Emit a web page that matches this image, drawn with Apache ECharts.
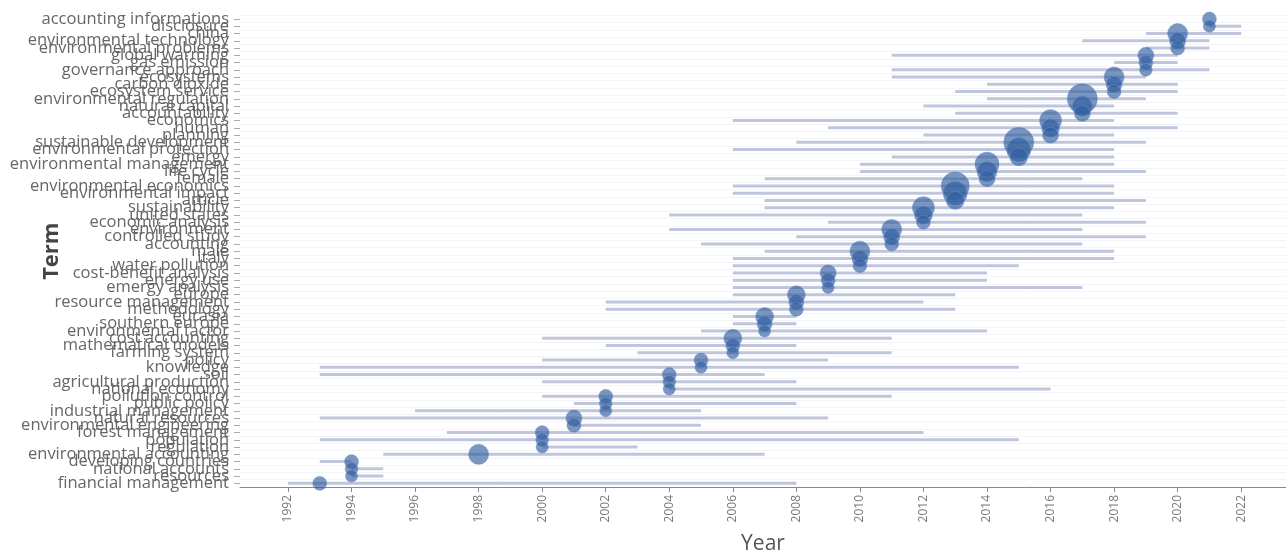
<!DOCTYPE html>
<html>
<head>
<meta charset="utf-8">
<script src="https://cdn.jsdelivr.net/npm/echarts@6/dist/echarts.min.js"></script>
<style>
html,body{margin:0;padding:0;background:#fff;}
#chart{width:1286px;height:557px;}
</style>
</head>
<body>
<div id="chart"></div>
<script>
// Terms listed top to bottom
const terms = [
  "accounting informations","disclosure","china","environmental technology","environmental problems",
  "global warming","gas emission","governance approach","ecosystems","carbon dioxide",
  "ecosystem service","environmental regulation","natural capital","accountability","economics",
  "human","planning","sustainable development","environmental protection","emergy",
  "environmental management","life cycle","female","environmental economics","environmental impact",
  "article","sustainability","united states","economic analysis","environment",
  "controlled study","accounting","male","italy","water pollution",
  "cost-benefit analysis","energy use","emergy analysis","europe","resource management",
  "methodology","eurasia","southern europe","environmental factor","cost accounting",
  "mathematical models","farming system","policy","knowledge","soil",
  "agricultural production","national economy","pollution control","public policy","industrial management",
  "natural resources","environmental engineering","forest management","population","regulation",
  "environmental accounting","developing countries","national accounts","resources","financial management"
];
// first quartile year (bar start)
const q1Years = [
  2021,2021,2019,2017,2019,
  2011,2018,2011,2011,2014,
  2013,2014,2012,2013,2006,
  2009,2012,2008,2006,2011,
  2010,2010,2007,2006,2006,
  2007,2007,2004,2009,2004,
  2008,2005,2007,2006,2006,
  2006,2006,2006,2006,2002,
  2002,2006,2006,2005,2000,
  2002,2003,2000,1993,1993,
  2000,2004,2000,2001,1996,
  1993,2001,1997,1993,2000,
  1995,1993,1994,1994,1992
];
// median year (bubble)
const medianYears = [
  2021,2021,2020,2020,2020,
  2019,2019,2019,2018,2018,
  2018,2017,2017,2017,2016,
  2016,2016,2015,2015,2015,
  2014,2014,2014,2013,2013,
  2013,2012,2012,2012,2011,
  2011,2011,2010,2010,2010,
  2009,2009,2009,2008,2008,
  2008,2007,2007,2007,2006,
  2006,2006,2005,2005,2004,
  2004,2004,2002,2002,2002,
  2001,2001,2000,2000,2000,
  1998,1994,1994,1994,1993
];
// third quartile year (bar end)
const q3Years = [
  2021,2022,2022,2021,2021,
  2020,2020,2021,2019,2020,
  2020,2019,2018,2020,2018,
  2020,2018,2019,2018,2018,
  2018,2019,2017,2018,2018,
  2019,2018,2017,2019,2017,
  2019,2017,2018,2018,2015,
  2014,2014,2017,2013,2012,
  2013,2008,2008,2014,2011,
  2008,2011,2009,2015,2007,
  2008,2016,2011,2008,2005,
  2009,2005,2012,2015,2003,
  2007,1994,1995,1995,2008
];
// term frequency
const freqs = [
  12,9,25,16,12,
  16,12,10,25,16,
  12,56,25,16,30,
  20,16,56,36,20,
  36,25,16,49,36,
  20,30,20,12,25,
  16,12,25,16,12,
  16,12,9,20,14,
  12,20,14,9,20,
  12,9,12,9,12,
  10,9,12,10,9,
  16,12,12,10,9,
  25,12,10,9,12
];
const yearTicks = [1992,1994,1996,1998,2000,2002,2004,2006,2008,2010,2012,2014,2016,2018,2020,2022];

const barData = terms.map((t,i)=>[q1Years[i], q3Years[i], i]);
const bubbleData = terms.map((t,i)=>[medianYears[i], i, freqs[i]]);

const chart = echarts.init(document.getElementById('chart'), null, {renderer:'canvas'});
const font = '"Open Sans", "DejaVu Sans", sans-serif';
chart.setOption({
  animation:false,
  backgroundColor:'#fff',
  grid:{left:240, right:0, top:15.4, bottom:70, containLabel:false, outerBoundsMode:'none'},
  xAxis:{
    type:'value', min:1990.49, max:2023.41,
    name:'Year', nameLocation:'middle', nameGap:47, nameMoveOverlap:false,
    nameTextStyle:{fontSize:21, color:'#555', fontFamily:font},
    axisLine:{show:true, lineStyle:{color:'#888', width:1}},
    axisTick:{show:true, customValues:yearTicks, length:5, lineStyle:{color:'#888'}},
    axisLabel:{customValues:yearTicks, rotate:90, fontSize:12, color:'#777', fontFamily:font, margin:8,
      formatter:function(v){ return String(v); }},
    splitLine:{show:false}
  },
  yAxis:{
    type:'category', data:terms, inverse:true,
    name:'Term', nameLocation:'middle', nameGap:177, nameRotate:90, nameMoveOverlap:false,
    nameTextStyle:{fontSize:22, fontWeight:'bold', color:'#444', fontFamily:font},
    axisLine:{show:false},
    axisTick:{show:true, alignWithLabel:true, length:6, lineStyle:{color:'#aaa'}},
    axisLabel:{interval:0, fontSize:16.5, color:'#666', fontFamily:font, margin:11},
    splitLine:{show:true, interval:0, lineStyle:{color:'#f3f4f8', width:1}}
  },
  series:[
    {
      type:'custom', data:barData, z:2,
      encode:{x:[0,1], y:2},
      renderItem:function(params, api){
        const s = api.coord([api.value(0), api.value(2)]);
        const e = api.coord([api.value(1), api.value(2)]);
        return {type:'line', shape:{x1:s[0], y1:s[1], x2:e[0], y2:e[1]},
          style:{stroke:'#bfc5dc', lineWidth:3}};
      }
    },
    {
      type:'scatter', data:bubbleData, z:3,
      symbolSize:function(v){ return 4*Math.sqrt(v[2]); },
      itemStyle:{color:'rgba(46,92,158,0.8)', borderColor:'rgba(110,140,195,0.7)', borderWidth:1}
    }
  ]
});
</script>
</body>
</html>
